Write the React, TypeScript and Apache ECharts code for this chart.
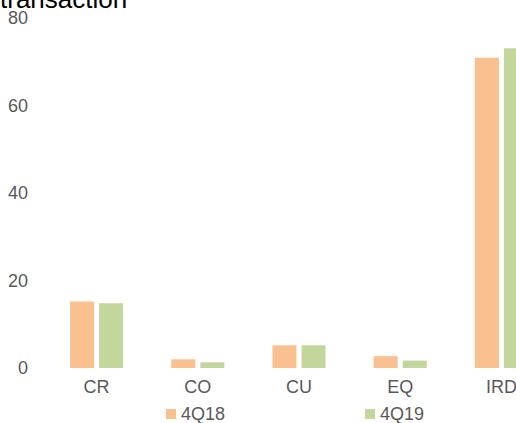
import React, { useEffect, useRef } from "react";
import * as echarts from "echarts";

const categories = ["CR", "CO", "CU", "EQ", "IRD"];
const series4Q18 = [15.2, 2.0, 5.2, 2.7, 70.9];
const series4Q19 = [14.8, 1.3, 5.2, 1.7, 73.1];
const seriesNames = ["4Q18", "4Q19"];
const titleText = "transaction";

export default function App() {
  const ref = useRef<HTMLDivElement>(null);
  useEffect(() => {
    if (!ref.current) return;
    const chart = echarts.init(ref.current, undefined, { renderer: "svg" });
    const font = "'Liberation Sans', Arial, sans-serif";
    chart.setOption({
      animation: false,
      backgroundColor: "#ffffff",
      textStyle: { fontFamily: font },
      graphic: [
        {
          type: "text",
          left: 0,
          top: 6,
          style: {
            text: titleText,
            fontSize: 26,
            fontFamily: font,
            fill: "#000000",
          },
        },
      ],
      legend: {
        data: seriesNames,
        left: 161,
        top: 420,
        itemWidth: 10,
        itemHeight: 10,
        itemGap: 140,
        icon: "rect",
        textStyle: { color: "#595959", fontSize: 18, fontFamily: font },
      },
      grid: { left: 46, right: 48, top: 38, bottom: 72, containLabel: false },
      xAxis: {
        type: "category",
        data: categories,
        axisLine: { show: false },
        axisTick: { show: false },
        axisLabel: { color: "#595959", fontSize: 18, margin: 10, fontFamily: font },
      },
      yAxis: {
        type: "value",
        min: 0,
        max: 80,
        interval: 20,
        axisLine: { show: false },
        axisTick: { show: false },
        splitLine: { show: false },
        axisLabel: { color: "#595959", fontSize: 18, margin: 18, fontFamily: font },
      },
      series: [
        {
          name: seriesNames[0],
          type: "bar",
          data: series4Q18,
          barWidth: 24,
          barGap: "21%",
          itemStyle: { color: "#FAC090" },
        },
        {
          name: seriesNames[1],
          type: "bar",
          data: series4Q19,
          barWidth: 24,
          barGap: "21%",
          itemStyle: { color: "#C3D69B" },
        },
      ],
    });
    return () => chart.dispose();
  }, []);
  return (
    <div style={{ position: "absolute", left: 0, top: 0, width: 516, height: 423, overflow: "hidden", background: "#fff" }}>
      <div ref={ref} style={{ position: "absolute", left: 0, top: -20, width: 600, height: 460 }} />
    </div>
  );
}
